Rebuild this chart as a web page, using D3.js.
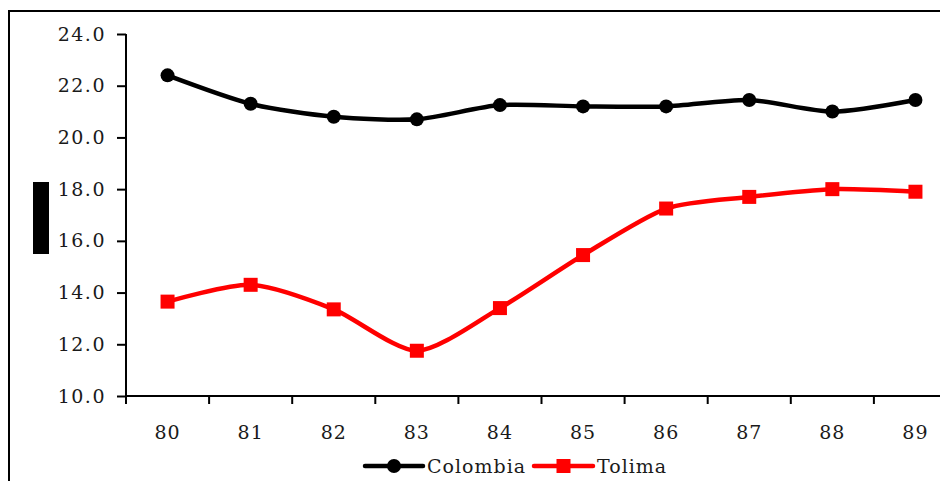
<!DOCTYPE html>
<html><head><meta charset="utf-8">
<script src="https://cdn.jsdelivr.net/npm/d3@7"></script>
<style>
html,body{margin:0;padding:0;background:#fff;}
svg{display:block;}
text{font-family:"DejaVu Serif",serif;fill:#1a1a1a;}
</style></head>
<body>
<script>
const categories = ["80","81","82","83","84","85","86","87","88","89"];
const colombia = [22.4, 21.3, 20.8, 20.7, 21.25, 21.2, 21.2, 21.45, 21.0, 21.45];
const tolima = [13.65, 14.3, 13.35, 11.75, 13.4, 15.45, 17.25, 17.7, 18.0, 17.9];
const yTicks = [10, 12, 14, 16, 18, 20, 22, 24];
const seriesNames = ["Colombia", "Tolima"];
const seriesColors = ["#000000", "#ff0000"];

const W = 940, H = 481;
const FS = "19px";
const svg = d3.select("body").append("svg").attr("width", W).attr("height", H);

// outer frame (cropped on right/bottom)
svg.append("rect").attr("x", 9).attr("y", 11).attr("width", 1000).attr("height", 600)
  .attr("fill", "none").attr("stroke", "#000").attr("stroke-width", 2);

// black marker bar at left
svg.append("rect").attr("x", 33).attr("y", 182).attr("width", 16).attr("height", 72).attr("fill", "#000");

const x = d3.scaleBand().domain(categories).range([126, 126 + 83.1 * 10]).padding(0);
const y = d3.scaleLinear().domain([10, 24]).range([396, 34]);

// y axis
const yAxis = d3.axisLeft(y).tickValues(yTicks).tickSize(9).tickPadding(11).tickFormat(d3.format(".1f"));
const gy = svg.append("g").attr("transform", "translate(126,0)").call(yAxis);
gy.select(".domain").attr("stroke", "#000").attr("stroke-width", 2).attr("d", "M0,34V396");
gy.selectAll(".tick line").attr("stroke", "#000").attr("stroke-width", 2);
gy.selectAll(".tick text").style("font-size", FS).style("font-family", "DejaVu Serif")
  .style("letter-spacing", "1.5px").attr("fill", "#1a1a1a");

// x axis
const gx = svg.append("g").attr("transform", "translate(0,396)");
gx.append("line").attr("x1", 125).attr("x2", 960).attr("y1", 0).attr("y2", 0).attr("stroke", "#000").attr("stroke-width", 2);
const bounds = categories.map(c => x(c)).concat([x(categories[categories.length - 1]) + x.bandwidth()]);
gx.selectAll("line.tk").data(bounds).enter().append("line").attr("class", "tk")
  .attr("x1", d => d).attr("x2", d => d).attr("y1", 0).attr("y2", 8)
  .attr("stroke", "#000").attr("stroke-width", 2);
gx.selectAll("text").data(categories).enter().append("text")
  .attr("x", d => x(d) + x.bandwidth() / 2).attr("y", 43)
  .attr("text-anchor", "middle").style("font-size", FS).style("letter-spacing", "1px").text(d => d);

const cx = c => x(c) + x.bandwidth() / 2;
const line = d3.line().x((d, i) => cx(categories[i])).y(d => y(d)).curve(d3.curveCardinal.tension(0.25));

// Colombia
svg.append("path").datum(colombia).attr("d", line).attr("fill", "none")
  .attr("stroke", seriesColors[0]).attr("stroke-width", 4.5).attr("stroke-linejoin", "round");
svg.selectAll("circle.col").data(colombia).enter().append("circle").attr("class", "col")
  .attr("cx", (d, i) => cx(categories[i])).attr("cy", d => y(d)).attr("r", 7).attr("fill", seriesColors[0]);

// Tolima
svg.append("path").datum(tolima).attr("d", line).attr("fill", "none")
  .attr("stroke", seriesColors[1]).attr("stroke-width", 4.5).attr("stroke-linejoin", "round");
svg.selectAll("rect.tol").data(tolima).enter().append("rect").attr("class", "tol")
  .attr("x", (d, i) => cx(categories[i]) - 7).attr("y", d => y(d) - 7)
  .attr("width", 14).attr("height", 14).attr("fill", seriesColors[1]);

// legend
const lg = svg.append("g");
const ly = 466;
const legendItems = [
  {name: seriesNames[0], color: seriesColors[0], x1: 365, x2: 423, tx: 427, shape: "circle"},
  {name: seriesNames[1], color: seriesColors[1], x1: 534, x2: 593, tx: 597, shape: "square"}
];
legendItems.forEach(it => {
  lg.append("line").attr("x1", it.x1).attr("x2", it.x2).attr("y1", ly).attr("y2", ly)
    .attr("stroke", it.color).attr("stroke-width", 4.5).attr("stroke-linecap", "round");
  const mx = (it.x1 + it.x2) / 2;
  if (it.shape === "circle") lg.append("circle").attr("cx", mx).attr("cy", ly).attr("r", 7).attr("fill", it.color);
  else lg.append("rect").attr("x", mx - 7).attr("y", ly - 7).attr("width", 14).attr("height", 14).attr("fill", it.color);
  lg.append("text").attr("x", it.tx).attr("y", ly + 7).style("font-size", FS).style("letter-spacing", "1px").text(it.name);
});
</script>
</body></html>
